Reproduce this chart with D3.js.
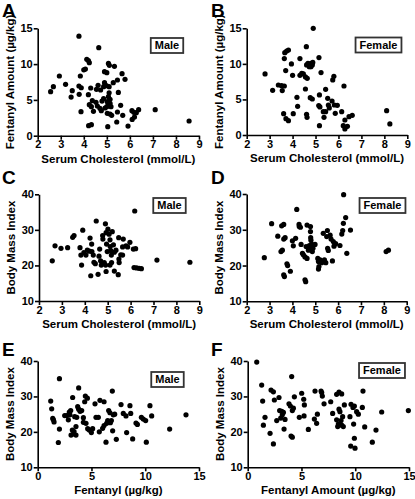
<!DOCTYPE html>
<html><head><meta charset="utf-8">
<script src="https://cdn.jsdelivr.net/npm/d3@7"></script>
<style>
body{margin:0;background:#fff;}
svg{display:block;font-family:"Liberation Sans",Arial,sans-serif;font-weight:bold;}
</style></head>
<body>
<script>
// Panel A: male, serum cholesterol (mmol/L) vs fentanyl amount (µg/kg)
const maleCholFent = [[2.56,6.15],[2.68,6.85],[2.94,8.34],[3.21,7.17],[3.5,6.29],[3.45,5.4],[3.79,13.9],[3.79,6.94],[3.89,6.7],[3.8,5.78],[3.85,8.34],[3.88,3.35],[4.0,9.2],[4.07,9.3],[4.13,10.67],[4.2,10.5],[4.24,10.2],[4.2,5.73],[4.3,6.66],[4.24,4.33],[4.37,4.89],[4.33,4.05],[4.42,3.4],[4.21,1.4],[4.33,1.54],[4.55,6.47],[4.62,7.03],[4.65,12.3],[4.53,4.66],[4.59,4.15],[4.7,3.82],[4.73,6.38],[4.76,3.49],[4.79,4.84],[4.86,6.85],[4.9,7.4],[4.9,8.94],[4.98,6.99],[5.0,8.8],[5.07,10.1],[5.11,9.83],[4.86,5.17],[4.92,3.87],[5.0,4.05],[5.02,4.75],[5.07,5.45],[5.07,4.42],[5.14,5.08],[5.18,4.05],[5.14,4.52],[5.1,6.85],[5.1,6.0],[5.02,3.12],[5.14,3.03],[5.21,2.84],[5.04,1.26],[5.33,9.69],[5.28,7.4],[5.46,7.78],[5.5,6.05],[5.46,3.31],[5.43,1.91],[5.6,4.24],[5.69,2.84],[5.79,7.87],[5.66,8.66],[5.92,1.35],[6.09,3.49],[6.17,3.26],[6.1,2.28],[6.2,2.6],[6.28,3.21],[6.38,3.63],[7.1,3.63],[8.57,2.05]];
// Panel B: female, serum cholesterol vs fentanyl amount
const femaleCholFent = [[2.8,8.58],[3.13,6.28],[3.38,7.03],[3.52,6.94],[3.64,6.89],[3.55,6.24],[3.66,11.58],[3.74,11.81],[3.82,11.95],[3.64,10.74],[3.7,9.05],[3.95,9.99],[4.0,8.39],[3.61,3.0],[3.71,2.3],[3.82,2.02],[4.03,3.0],[4.19,5.3],[4.22,4.03],[4.32,10.74],[4.32,8.39],[4.4,8.67],[4.47,8.58],[4.56,8.16],[4.6,12.42],[4.56,6.47],[4.64,7.97],[4.61,9.85],[4.67,10.08],[4.73,9.61],[4.8,10.08],[4.86,9.85],[4.9,15.0],[4.72,9.7],[4.8,9.6],[4.88,10.2],[4.61,2.9],[4.63,2.48],[4.77,5.25],[4.86,5.06],[5.15,10.88],[5.24,8.77],[5.17,5.63],[5.14,4.13],[5.19,3.94],[5.17,1.31],[5.34,3.28],[5.37,2.48],[5.44,3.28],[5.44,6.42],[5.53,5.16],[5.56,4.22],[5.6,3.8],[5.72,4.78],[5.75,7.74],[5.8,8.25],[5.82,4.22],[5.86,3.05],[5.95,4.17],[6.14,3.28],[6.24,6.89],[6.21,1.31],[6.28,2.11],[6.28,0.84],[6.39,1.22],[6.46,2.58],[6.6,2.77],[8.1,3.42],[8.24,1.55]];
// Panel C: male, serum cholesterol vs body mass index
const maleCholBmi = [[2.58,21.3],[2.7,25.5],[2.96,24.8],[3.25,25.0],[3.47,27.9],[3.53,28.4],[3.79,25.0],[3.83,22.9],[3.86,20.1],[3.91,29.9],[3.96,23.6],[4.05,22.9],[4.11,24.3],[4.2,24.0],[4.23,27.7],[4.3,26.0],[4.31,23.9],[4.37,22.9],[4.4,20.9],[4.26,17.1],[4.46,20.5],[4.5,32.5],[4.58,17.5],[4.62,22.6],[4.65,24.6],[4.69,21.3],[4.72,20.1],[4.78,28.4],[4.79,27.4],[4.85,20.8],[4.9,31.7],[4.93,29.2],[4.95,26.0],[4.98,23.9],[4.91,20.1],[4.93,18.3],[5.01,30.2],[5.06,28.8],[5.1,27.2],[5.11,25.3],[5.13,24.2],[5.16,22.9],[5.1,20.1],[5.17,20.8],[5.2,29.5],[5.25,25.8],[5.29,23.7],[5.36,24.3],[5.29,18.4],[5.46,17.4],[5.48,27.8],[5.49,21.8],[5.5,20.8],[5.57,23.0],[5.65,25.2],[5.68,27.4],[5.65,22.9],[5.8,25.5],[5.87,25.2],[5.97,26.5],[6.18,35.3],[6.12,24.6],[6.22,24.7],[6.15,19.4],[6.26,19.3],[6.37,19.2],[6.47,19.1],[7.15,21.5],[8.59,20.9]];
// Panel D: female, serum cholesterol vs body mass index
const femaleCholBmi = [[2.77,22.2],[3.09,31.7],[3.36,28.2],[3.5,23.9],[3.56,24.3],[3.53,31.1],[3.62,31.5],[3.62,27.4],[3.68,27.8],[3.62,17.4],[3.65,16.9],[3.76,20.5],[3.79,20.0],[3.91,18.4],[4.0,26.9],[4.04,25.5],[4.14,27.6],[4.19,35.7],[4.29,31.5],[4.3,30.9],[4.35,30.7],[4.38,25.9],[4.44,23.4],[4.48,23.0],[4.55,22.4],[4.6,25.3],[4.64,31.3],[4.55,16.0],[4.58,15.5],[4.64,22.0],[4.7,24.3],[4.74,25.6],[4.79,30.9],[4.79,29.5],[4.8,27.8],[4.81,27.1],[4.84,26.0],[4.84,25.0],[4.9,24.8],[4.87,23.9],[4.99,25.9],[5.11,22.0],[5.14,21.1],[5.16,19.7],[5.14,19.0],[5.21,21.6],[5.28,20.8],[5.35,29.0],[5.4,21.6],[5.46,20.8],[5.5,28.1],[5.53,29.8],[5.54,24.8],[5.57,24.2],[5.65,28.5],[5.69,27.4],[5.75,21.3],[5.79,26.7],[5.82,25.4],[5.89,26.1],[6.08,25.6],[6.16,28.8],[6.2,29.8],[6.23,31.8],[6.24,39.8],[6.33,33.4],[6.38,23.4],[6.54,29.9],[8.1,23.9],[8.2,24.3]];
// Panel E: male, fentanyl (µg/kg) vs body mass index
const maleFentBmi = [[1.21,28.7],[1.3,26.5],[1.4,23.8],[1.46,23.4],[1.52,22.8],[2.02,35.0],[2.02,20.8],[1.92,17.0],[2.51,24.6],[2.7,24.6],[2.85,23.4],[2.94,25.6],[3.07,26.0],[3.0,24.8],[3.1,19.1],[3.22,20.5],[3.25,29.7],[3.32,19.4],[3.38,20.1],[3.44,24.3],[3.56,19.1],[3.56,21.5],[3.63,24.1],[3.72,27.1],[3.81,32.4],[3.81,26.4],[3.94,25.8],[4.09,26.0],[4.25,24.0],[4.25,22.7],[4.37,28.5],[4.43,30.1],[4.62,29.5],[4.49,22.4],[4.65,20.9],[4.8,20.5],[4.99,19.8],[5.11,20.9],[5.33,27.9],[5.42,24.1],[5.64,24.1],[5.73,20.0],[5.79,28.9],[6.04,21.0],[6.17,28.5],[6.17,21.8],[6.35,17.1],[6.41,22.4],[6.51,23.2],[6.6,26.0],[6.72,25.4],[6.76,22.6],[6.85,23.2],[6.94,31.5],[6.97,20.3],[7.03,24.8],[7.16,25.0],[7.31,17.9],[7.75,27.7],[7.96,25.2],[8.21,24.5],[8.27,19.8],[8.58,27.4],[8.65,25.2],[8.83,18.0],[9.14,22.5],[9.27,22.1],[9.64,24.1],[9.82,23.6],[10.04,23.2],[10.1,17.1],[10.44,27.4],[10.6,24.5],[12.27,20.8],[13.79,24.8]];
// Panel F: female, fentanyl amount vs body mass index
const femaleFentBmi = [[0.84,39.7],[1.3,33.2],[1.39,28.7],[1.46,21.9],[1.61,24.1],[2.08,19.6],[2.17,31.8],[2.39,31.3],[2.48,29.0],[2.39,16.6],[2.7,23.2],[2.91,29.7],[2.97,26.0],[3.07,23.9],[3.16,25.8],[3.22,24.8],[3.32,25.5],[3.38,20.8],[3.47,23.5],[3.84,27.9],[3.97,27.3],[4.09,35.6],[4.03,18.8],[4.15,18.5],[4.15,26.0],[4.25,26.7],[4.34,29.9],[4.8,24.1],[5.02,30.9],[5.21,29.2],[5.27,27.6],[5.24,24.5],[5.64,20.7],[6.26,31.5],[6.2,23.6],[6.41,22.4],[6.48,25.0],[6.82,31.5],[6.88,31.1],[6.94,30.1],[7.1,27.9],[7.72,28.5],[7.9,25.2],[8.27,30.6],[8.49,31.2],[8.74,30.7],[8.27,23.4],[8.37,21.5],[8.43,22.2],[8.49,26.4],[8.58,25.7],[8.68,23.2],[8.74,21.9],[8.83,24.3],[8.89,21.5],[8.99,27.6],[9.51,24.3],[9.61,27.8],[9.79,26.9],[9.85,22.2],[9.92,27.3],[9.58,16.0],[9.92,18.2],[9.98,15.4],[10.13,25.7],[10.29,25.0],[10.72,31.5],[10.66,26.9],[10.88,21.4],[11.59,17.1],[11.93,20.5],[12.46,25.6],[14.94,26.0]];

const panelLetters = ["A","B","C","D","E","F"];
const sexLabels = ["Male","Female","Male","Female","Male","Female"];
const cholTicks = [2,3,4,5,6,7,8,9];
const fentAmountTicks = [0,5,10,15];
const bmiTicks = [10,20,30,40];
const fentTicks = [0,5,10,15];
const xTitles = ["Serum Cholesterol (mmol/L)","Serum Cholesterol (mmol/L)","Serum Cholesterol (mmol/L)","Serum Cholesterol (mmol/L)","Fentanyl (\u00b5g/kg)","Fentanyl Amount (\u00b5g/kg)"];
const yTitles = ["Fentanyl Amount (\u00b5g/kg)","Fentanyl Amount (\u00b5g/kg)","Body Mass Index","Body Mass Index","Body Mass Index","Body Mass Index"];

const panels = [
  {data:maleCholFent, xd:[2,9], yd:[0,15], xt:cholTicks, yt:fentAmountTicks, x0:37.7, x1:199, y0:135.7, y1:28.3, lx:2, ly:17, bx:167, by:38},
  {data:femaleCholFent, xd:[2,9], yd:[0,15], xt:cholTicks, yt:fentAmountTicks, x0:246.7, x1:407.3, y0:135, y1:28.3, lx:211, ly:17, bx:378.5, by:37.5},
  {data:maleCholBmi, xd:[2,9], yd:[10,40], xt:cholTicks, yt:bmiTicks, x0:39, x1:199.3, y0:301, y1:194.3, lx:2, ly:184, bx:169.5, by:198},
  {data:femaleCholBmi, xd:[2,9], yd:[10,40], xt:cholTicks, yt:bmiTicks, x0:246.7, x1:406.7, y0:301.3, y1:194, lx:211, ly:184, bx:382.5, by:198},
  {data:maleFentBmi, xd:[0,15], yd:[10,40], xt:fentTicks, yt:bmiTicks, x0:37.7, x1:199, y0:467.3, y1:361, lx:2, ly:356, bx:167.5, by:372},
  {data:femaleFentBmi, xd:[0,15], yd:[10,40], xt:fentAmountTicks, yt:bmiTicks, x0:247.7, x1:409, y0:467.3, y1:361, lx:211, ly:356, bx:382, by:363}
];

const svg = d3.select("body").append("svg").attr("width",415).attr("height",499);

panels.forEach((p,i)=>{
  const x = d3.scaleLinear().domain(p.xd).range([p.x0,p.x1]);
  const y = d3.scaleLinear().domain(p.yd).range([p.y0,p.y1]);
  const g = svg.append("g");

  const xa = g.append("g").attr("transform",`translate(0,${p.y0})`)
    .call(d3.axisBottom(x).tickValues(p.xt).tickSize(4).tickSizeOuter(0).tickPadding(1).tickFormat(d3.format("d")));
  const ya = g.append("g").attr("transform",`translate(${p.x0},0)`)
    .call(d3.axisLeft(y).tickValues(p.yt).tickSize(4).tickSizeOuter(0).tickPadding(1).tickFormat(d3.format("d")));
  [xa,ya].forEach(a=>{
    a.selectAll("path").attr("stroke","#000").attr("stroke-width",1.6);
    a.selectAll("line").attr("stroke","#000").attr("stroke-width",1.6);
    a.selectAll("text").attr("fill","#000").attr("font-size",11).attr("font-weight","bold")
      .attr("font-family","'Liberation Sans',Arial,sans-serif");
  });

  g.append("g").selectAll("circle").data(p.data).join("circle")
    .attr("cx",d=>x(d[0])).attr("cy",d=>y(d[1])).attr("r",2.6).attr("fill","#000");

  // panel letter
  g.append("text").attr("x",p.lx).attr("y",p.ly).text(panelLetters[i])
    .attr("font-size",19).attr("font-weight","bold").attr("fill","#000");
  // x title
  g.append("text").attr("x",(p.x0+p.x1)/2).attr("y",p.y0+27).attr("text-anchor","middle")
    .text(xTitles[i]).attr("font-size",11.5).attr("fill","#000");
  // y title
  g.append("text").attr("transform",`translate(${p.x0-24},${(p.y0+p.y1)/2}) rotate(-90)`)
    .attr("text-anchor","middle").text(yTitles[i]).attr("font-size",11.5).attr("fill","#000");
  // legend box
  const lg = g.append("g");
  const rect = lg.append("rect");
  const lt = lg.append("text").attr("x",p.bx).attr("y",p.by+11).attr("text-anchor","middle")
    .text(sexLabels[i]).attr("font-size",11).attr("fill","#000");
  const bb = lt.node().getBBox();
  rect.attr("x",bb.x-4).attr("y",p.by).attr("width",bb.width+8).attr("height",15)
    .attr("fill","#fff").attr("stroke","#333").attr("stroke-width",1.8);
});
</script>
</body></html>
